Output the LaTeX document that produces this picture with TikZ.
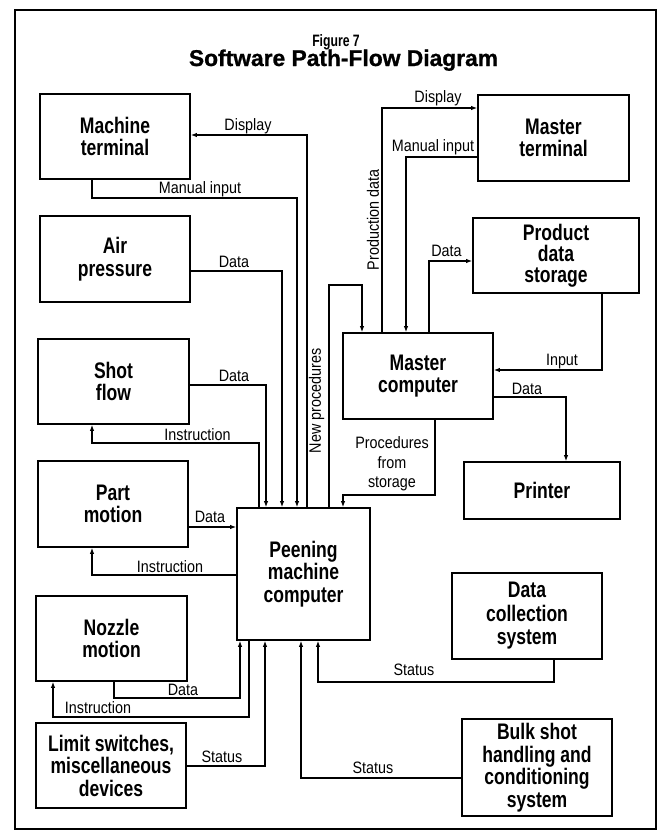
\documentclass[tikz,border=0pt]{standalone}
\usepackage{fontspec}
\usetikzlibrary{arrows.meta}
\newfontfamily\boxfont[FakeStretch=0.78]{Liberation Sans Bold}
\newfontfamily\lblfont[FakeStretch=0.87]{Liberation Sans}
\newfontfamily\figfont[FakeStretch=0.74]{Liberation Sans Bold}
\newfontfamily\titlefont[FakeBold=1]{Liberation Sans Bold}
\tikzset{
  blk/.style={draw, line width=1.8pt, inner sep=0pt, align=center,
    font=\boxfont\fontsize{22.5}{22.5}\selectfont},
  lbl/.style={inner sep=0pt, anchor=base, font=\lblfont\fontsize{16.5}{19.5}\selectfont},
  conn/.style={line width=1.1pt},
  arr/.style={conn, -{Latex[length=6pt,width=4.5pt]}},
}
\begin{document}
\begin{tikzpicture}[x=1pt,y=-1pt]
\useasboundingbox (0,0) rectangle (665,833);
\draw[line width=1.4pt] (15,10) rectangle (656,829);
\node[font=\figfont\fontsize{16.5}{18}\selectfont, anchor=base, inner sep=0pt] (fig) at (336,46) {Figure 7};
\node[font=\titlefont\fontsize{22.8}{26}\selectfont, anchor=base, inner sep=0pt] (title) at (343.5,66) {Software Path-Flow Diagram};

% boxes
\node[blk, minimum width=150pt, minimum height=85pt] (mt) at (115,136.5) {Machine\\terminal};
\node[blk, minimum width=150pt, minimum height=86pt] (ap) at (115,259) {Air\\pressure};
\node[blk, minimum width=151pt, minimum height=85pt] (sf) at (113.5,381.5) {Shot\\flow};
\node[blk, minimum width=150pt, minimum height=86pt] (pm) at (113,504) {Part\\motion};
\node[blk, minimum width=151pt, minimum height=85pt] (nm) at (111.5,638.5) {Nozzle\\motion};
\node[blk, minimum width=150pt, minimum height=85pt] (ls) at (111,765.5) {Limit switches,\\miscellaneous\\devices};
\node[blk, minimum width=133pt, minimum height=132pt] (pc) at (303.5,574) {Peening\\machine\\computer};
\node[blk, minimum width=150pt, minimum height=86pt] (mc) at (418,376) {Master\\computer};
\node[blk, minimum width=151pt, minimum height=86pt] (mterm) at (553.5,138) {Master\\terminal};
\node[blk, minimum width=166pt, minimum height=75pt, font=\boxfont\fontsize{22.5}{21}\selectfont] (pds) at (556,255.5) {Product\\data\\storage};
\node[blk, minimum width=156pt, minimum height=57pt] (pr) at (542,490.5) {Printer};
\node[blk, minimum width=150pt, minimum height=86pt, font=\boxfont\fontsize{22.5}{23.5}\selectfont] (dc) at (527,616) {Data\\collection\\system};
\node[blk, minimum width=150pt, minimum height=97pt] (bs) at (537,767.5) {Bulk shot\\handling and\\conditioning\\system};

% connectors: machine side
\draw[arr] (pc.north -| 307,0) |- (mt.east |- 0,135);
\node[lbl] (lDisp1) at (248,130) {Display};
\draw[arr] (mt.south -| 92,0) |- (297,198) -- (pc.north -| 297,0);
\node[lbl] (lMan1) at (200,193) {Manual input};
\draw[arr] (ap.east |- 0,271) -| (pc.north -| 282,0);
\node[lbl] (lData1) at (234,267) {Data};
\draw[arr] (sf.east |- 0,385) -| (pc.north -| 266,0);
\node[lbl] (lData2) at (234,381) {Data};
\draw[arr] (pc.north -| 259,0) |- (92,443) -- (sf.south -| 92,0);
\node[lbl] (lInst1) at (197.5,440) {Instruction};
\draw[arr] (pm.east |- 0,527) -- (pc.west |- 0,527);
\node[lbl] (lData3) at (210,522) {Data};
\draw[arr] (pc.west |- 0,575) -| (pm.south -| 92,0);
\node[lbl] (lInst2) at (170,572) {Instruction};
\draw[arr] (nm.south -| 114,0) |- (240,698) -- (pc.south -| 240,0);
\node[lbl] (lData4) at (183,695) {Data};
\draw[arr] (pc.south -| 249,0) |- (53,717) -- (nm.south -| 53,0);
\node[lbl] (lInst3) at (98,713) {Instruction};
\draw[arr] (ls.east |- 0,766) -| (pc.south -| 265,0);
\node[lbl] (lStat1) at (222,762) {Status};
\draw[arr] (bs.west |- 0,778) -| (pc.south -| 301,0);
\node[lbl] (lStat2) at (373,773) {Status};
\draw[arr] (dc.south -| 554,0) |- (318,682) -- (pc.south -| 318,0);
\node[lbl] (lStat3) at (414,675) {Status};

% master side
\draw[arr] (pc.north -| 329,0) |- (362,285) -- (mc.north -| 362,0);
\node[lbl, anchor=center, rotate=90] (lNew) at (316.5,401) {New procedures};
\draw[arr] (mc.south -| 435,0) |- (343,495) -- (pc.north -| 343,0);
\node[lbl, anchor=center, align=center] (lProc) at (392,464) {Procedures\\from\\storage};
\draw[arr] (mc.north -| 382,0) |- (mterm.west |- 0,108);
\node[lbl, anchor=center, rotate=90] (lProd) at (373,220) {Production data};
\node[lbl] (lDisp2) at (438,102) {Display};
\draw[arr] (mterm.west |- 0,157) -| (mc.north -| 406,0);
\node[lbl] (lMan2) at (433,151) {Manual input};
\draw[arr] (mc.north -| 429,0) |- (pds.west |- 0,261);
\node[lbl] (lData5) at (446.5,256) {Data};
\draw[arr] (pds.south -| 602,0) |- (mc.east |- 0,370);
\node[lbl] (lInput) at (562,365) {Input};
\draw[arr] (mc.east |- 0,397) -| (pr.north -| 566,0);
\node[lbl] (lData6) at (527,394) {Data};
\end{tikzpicture}
\end{document}
